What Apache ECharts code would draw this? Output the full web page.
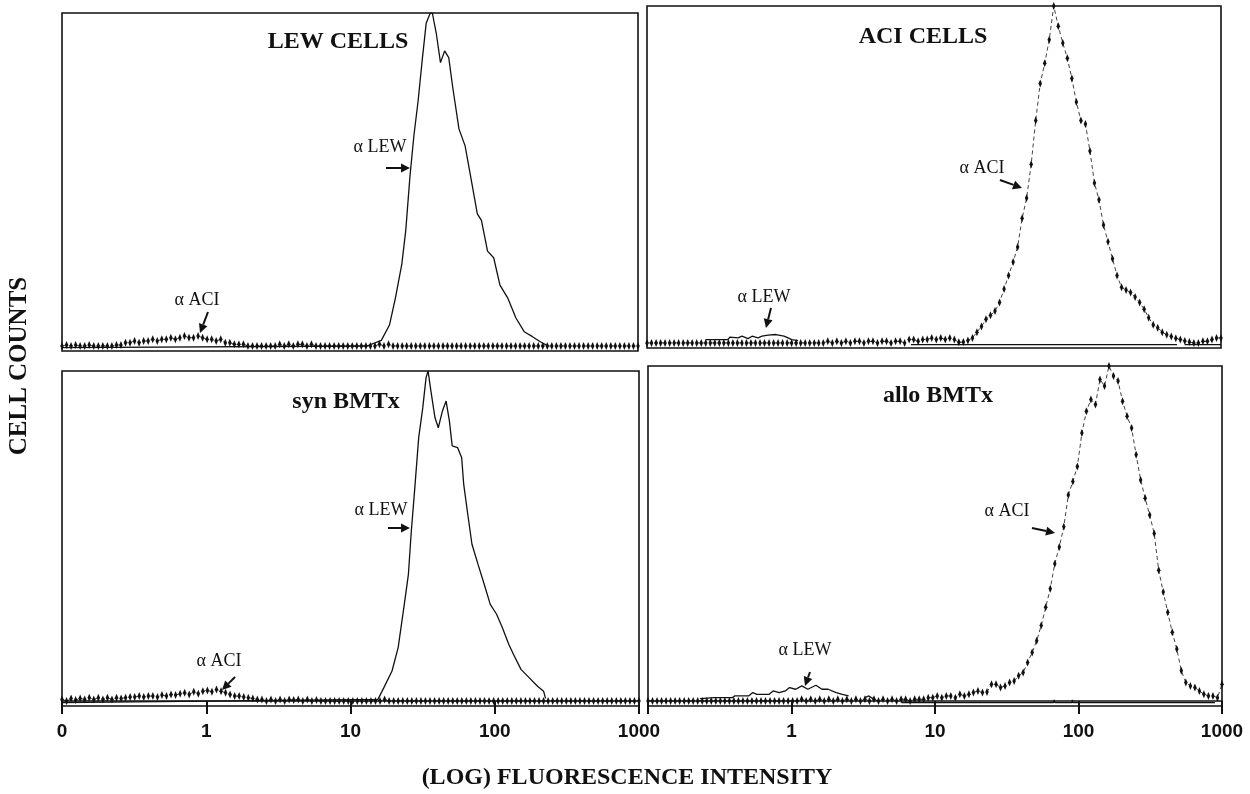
<!DOCTYPE html>
<html>
<head>
<meta charset="utf-8">
<title>Flow cytometry histograms</title>
<script src="https://cdn.jsdelivr.net/npm/echarts/dist/echarts.min.js"></script>
<style>
  html, body { margin: 0; padding: 0; background: #fff; }
  #chart { width: 1250px; height: 794px; }
</style>
</head>
<body>
<div id="chart"></div>
<script>
// x axis ticks (log fluorescence), first tick printed as "0"
var tickLabelsLeft = ['0', '1', '10', '100', '1000'];
var tickLabelsRight = ['', '1', '10', '100', '1000'];

// dotted traces are read per channel (128 log channels over 4 decades)
var channels = [];
for (var i = 0; i < 128; i++) channels.push(i);

// LEW CELLS
var lewAlphaLew = [
  [0.1, -0.5], [13.1, 0], [16.5, 1.7], [18.8, 6.3], [20.7, 14.5], [22.9, 24.6], [24.4, 34.8],
  [26.1, 51.1], [27.8, 63.3], [29.7, 73.5], [31.7, 85.7], [33.8, 96.9], [36.1, 100], [37.3, 100],
  [39.8, 93.7], [42.5, 85.1], [45.4, 88.6], [48.5, 86.6], [51.8, 77.4], [57.1, 65.2], [63, 60.1],
  [69.5, 49.9], [76.6, 39.7], [81.8, 37.7], [90.2, 28.5], [99.5, 26.5], [110, 18.3], [125, 14.3],
  [142, 8.4], [162, 4.3], [185, 2.8], [211, 1.2], [233, 0.2]
];
var lewAlphaAci = [
  0, 0.3, 0, 0.3, 0, 0, 0.3, 0, 0, 0, 0, 0, 0.3, 0.3, 1, 1,
  1.5, 1, 1.5, 1.5, 2, 1.5, 2, 2, 2.5, 2, 2.5, 3, 2.5, 2.5, 3, 2.5,
  2, 2, 1.5, 2, 1, 1, 0.5, 0.5, 0.5, 0, 0, 0, 0, 0, 0, 0,
  0.5, 0, 0.5, 0, 0.5, 0.5, 0, 0.5, 0, 0, 0, 0, 0, 0, 0, 0,
  0, 0, 0, 0, 0, 0, 0.5, 0, 0.5, 0, 0, 0, 0, 0, 0, 0,
  0, 0, 0, 0, 0, 0, 0, 0, 0, 0, 0, 0, 0, 0, 0, 0,
  0, 0, 0, 0, 0, 0, 0, 0, 0, 0, 0, 0, 0, 0, 0, 0,
  0, 0, 0, 0, 0, 0, 0, 0, 0, 0, 0, 0, 0, 0, 0, 0
];

// ACI CELLS
var aciAlphaAci = [
  0, 0, 0, 0, 0, 0, 0, 0, 0, 0, 0, 0, 0, 0, 0, 0,
  0, 0, 0, 0, 0, 0, 0, 0, 0, 0, 0, 0, 0, 0, 0, 0,
  0, 0, 0, 0, 0, 0, 0, 0, 0.5, 0, 0.5, 0, 0.5, 0, 0.5, 0.5,
  0, 0.5, 0.5, 0, 0.5, 0.5, 0, 0.5, 0.5, 0, 1, 1, 0.5, 1, 1, 1.5,
  1, 1.5, 1, 1.5, 1, 0.2, 0.3, 0.7, 1.5, 3.2, 4.9, 7, 8.2, 9.5, 12, 16,
  20, 24, 28.5, 37, 43, 53, 66, 77, 83, 90, 100, 94, 89, 84.5, 78.5, 71.5,
  66, 65, 57, 47.5, 42.5, 35, 30, 25, 20, 16.5, 15.7, 15, 13.6, 12, 10, 7.5,
  5.4, 4.5, 3.2, 2.4, 1.9, 1.4, 1, 0.6, 0.3, 0, 0, 0.5, 0.5, 1, 1.5, 1.5
];
var aciAlphaLew = [
  [0.256, 1], [0.366, 1], [0.378, 1.7], [0.431, 1.5], [0.459, 2], [0.506, 1.3], [0.54, 2],
  [0.594, 1.5], [0.633, 2], [0.697, 2.3], [0.792, 2.5], [0.901, 2], [0.962, 1.5], [1.02, 1],
  [1.13, 0.7], [1.2, '-'], [6.9, -0.5], [494, -0.5], [520, '-'], [560, -0.5], [1000, -0.5]
];

// syn BMTx
var synAlphaLew = [
  [0.1, -0.5], [15.5, 0.5], [17, 4], [19.4, 9.1], [21.4, 16.2], [23.6, 29.3], [25.2, 38.4],
  [26.4, 51.5], [27.8, 63.6], [29.7, 79.8], [31.7, 88.9], [33.4, 98], [34.5, 100], [36.1, 93.9],
  [38.5, 85.9], [40.6, 82.8], [43.4, 87.9], [46, 90.9], [48.5, 84.8], [50.7, 77.3], [55.2, 76.8],
  [59, 73.7], [60.9, 65.7], [65, 56.6], [69.5, 47.5], [76.6, 41.4], [84.5, 35.4], [93.1, 29.3],
  [103, 26.3], [113, 22.2], [125, 17.2], [135, 14.1], [152, 9.6], [173, 7.1], [198, 4.5],
  [218, 3], [225, 0.8]
];
var synAlphaAci = [
  0.5, 0, 0.8, 0.3, 0.8, 0.5, 1, 0.5, 1, 0.5, 1, 0.5, 1, 0.8, 1, 1.2,
  1.2, 1.5, 1.2, 1.5, 1.5, 1.2, 1.8, 1.5, 2, 1.8, 2.2, 2.5, 2, 2.8, 2.2, 3,
  3.2, 2.8, 3.5, 3, 2.5, 2, 1.5, 1.5, 1.2, 1, 0.8, 0.5, 0.5, 0, 0.5, 0,
  0.5, 0, 0.5, 0.3, 0.5, 0, 0.5, 0, 0.3, 0, 0, 0, 0, 0, 0, 0,
  0, 0, 0, 0, 0, 0, 0, 0.5, 0, 0, 0, 0, 0, 0, 0, 0,
  0, 0, 0, 0, 0, 0, 0, 0, 0, 0, 0, 0, 0, 0, 0, 0,
  0, 0, 0, 0, 0, 0, 0, 0, 0, 0, 0, 0, 0, 0, 0, 0,
  0, 0, 0, 0, 0, 0, 0, 0, 0, 0, 0, 0, 0, 0, 0, 0
];

// allo BMTx
var alloAlphaAci = [
  0, 0, 0, 0, 0, 0, 0, 0, 0, 0, 0, 0, 0, 0, 0, 0,
  0, 0, 0, 0, 0, 0, 0, 0, 0, 0, 0, 0, 0, 0, 0, 0,
  0, 0, 0.5, 0, 0.5, 0, 0.5, 0, 0.5, 0, 0.5, 0, 0.5, 0, 0.5, 0,
  0.5, 0, 0.5, 0, 0.5, 0, 0.5, 0, 0.5, 0.5, 0, 0.5, 0.5, 0.5, 1, 1,
  1.5, 1, 1.5, 1.5, 1, 2, 1.5, 2, 2.5, 3, 2.5, 2.7, 5, 5, 4, 4.5,
  5.5, 6, 7.5, 8.5, 11.5, 14.5, 18, 22.5, 28, 33.5, 41, 46, 52, 61.5, 65.5, 70,
  80, 86.5, 90, 88.5, 96, 94, 100, 97, 95.5, 89.5, 85, 81.5, 73.5, 66, 60.5, 55.5,
  50, 39, 32.5, 26.5, 20.5, 15.5, 9, 5.5, 4.5, 4, 3, 2, 1.5, 1.5, 1, 5
];
var alloAlphaLew = [
  [0.23, 0.7], [0.289, 1], [0.388, 1], [0.401, 1.5], [0.503, 1.5], [0.537, 2.5], [0.574, 2],
  [0.698, 2], [0.745, 3], [0.822, 2.5], [0.906, 3], [0.968, 4], [1.07, 3.5], [1.18, 4.5],
  [1.3, 3.5], [1.48, 4.7], [1.63, 3.5], [1.8, 3.5], [2.05, 2.5], [2.26, 2], [2.5, 1.5],
  [2.8, '-'], [3.24, 1], [3.46, 1.5], [3.69, 0.7], [4.5, '-'],
  [5.83, -0.5], [67, -0.5], [67.6, 0.3], [68.5, -0.5], [90, -0.5], [90.6, 0.3], [91.5, -0.5], [892, -0.5]
];

var panels = [
  { grid: { left: 62, top: 13, width: 576, height: 338 }, bottom: false, labels: tickLabelsLeft,
    solid: lewAlphaLew, dotted: lewAlphaAci },
  { grid: { left: 647, top: 6, width: 574, height: 342 }, bottom: false, labels: tickLabelsRight,
    solid: aciAlphaLew, dotted: aciAlphaAci },
  { grid: { left: 62, top: 371, width: 577, height: 335 }, bottom: true, labels: tickLabelsLeft,
    solid: synAlphaLew, dotted: synAlphaAci },
  { grid: { left: 648, top: 366, width: 574, height: 340 }, bottom: true, labels: tickLabelsRight,
    solid: alloAlphaLew, dotted: alloAlphaAci }
];

var ink = '#111';
var serif = '"Liberation Serif", "Times New Roman", serif';

var grids = [], xAxes = [], yAxes = [], series = [];
panels.forEach(function (p, g) {
  grids.push(Object.assign({ show: true, borderColor: ink, borderWidth: 1.6, backgroundColor: 'transparent' }, p.grid));
  var labels = p.labels;
  xAxes.push({
    gridIndex: g, type: 'log', logBase: 10, min: 0.1, max: 1000,
    splitLine: { show: false },
    axisLine: { show: p.bottom, lineStyle: { color: ink, width: 1.6 } },
    axisTick: { show: p.bottom, length: 13, lineStyle: { color: ink, width: 2 } },
    axisLabel: {
      show: p.bottom, margin: 16, color: ink, fontSize: 19, fontWeight: 'bold',
      fontFamily: '"Liberation Sans", Arial, sans-serif',
      formatter: function (v) { return labels[Math.round(Math.log10(v)) + 1] || ''; }
    }
  });
  xAxes.push({ gridIndex: g, type: 'category', data: channels, boundaryGap: false, show: false });
  yAxes.push({ gridIndex: g, type: 'value', min: -1.5, max: 100, show: false, splitLine: { show: false } });

  series.push({
    type: 'line', xAxisIndex: 2 * g, yAxisIndex: g, data: p.solid,
    symbol: 'none', connectNulls: false,
    lineStyle: { color: ink, width: 1.3 }
  });
  series.push({
    type: 'line', xAxisIndex: 2 * g + 1, yAxisIndex: g, data: p.dotted,
    symbol: 'diamond', symbolSize: [3.5, 8], showAllSymbol: true,
    itemStyle: { color: ink },
    lineStyle: { color: ink, width: 0.8, type: [4, 3] }
  });
});

function label(text, x, y, size, bold, rotation) {
  return {
    type: 'text', x: x, y: y, rotation: rotation || 0, z: 100,
    style: {
      text: text, fill: ink, fontSize: size, fontFamily: serif,
      fontWeight: bold ? 'bold' : 'normal', align: 'center', verticalAlign: 'middle'
    }
  };
}

function arrow(x1, y1, x2, y2) {
  var a = Math.atan2(y2 - y1, x2 - x1), len = 9, half = 4.5;
  var bx = x2 - len * Math.cos(a), by = y2 - len * Math.sin(a);
  return {
    type: 'group', z: 100,
    children: [
      { type: 'line', shape: { x1: x1, y1: y1, x2: bx, y2: by }, style: { stroke: ink, lineWidth: 2 } },
      { type: 'polygon', shape: { points: [
        [x2, y2],
        [bx + half * Math.sin(a), by - half * Math.cos(a)],
        [bx - half * Math.sin(a), by + half * Math.cos(a)]
      ] }, style: { fill: ink } }
    ]
  };
}

var graphics = [
  label('LEW CELLS', 338, 42, 24, true),
  label('ACI CELLS', 923, 37, 24, true),
  label('syn BMTx', 346, 402, 24, true),
  label('allo BMTx', 938, 396, 24, true),
  label('α LEW', 380, 147, 18),
  label('α ACI', 197, 300, 18),
  label('α ACI', 982, 168, 18),
  label('α LEW', 764, 297, 18),
  label('α LEW', 381, 510, 18),
  label('α ACI', 219, 661, 18),
  label('α ACI', 1007, 511, 18),
  label('α LEW', 805, 650, 18),
  label('CELL COUNTS', 20, 366, 25, true, Math.PI / 2),
  label('(LOG) FLUORESCENCE INTENSITY', 627, 778, 24, true),
  arrow(386, 168, 410, 168),
  arrow(208, 312, 200, 333),
  arrow(1000, 180, 1022, 188),
  arrow(771, 308, 766, 328),
  arrow(388, 528, 410, 528),
  arrow(235, 677, 222, 690),
  arrow(1032, 528, 1055, 533),
  arrow(810, 672, 805, 686)
];

var chart = echarts.init(document.getElementById('chart'));
chart.setOption({
  backgroundColor: '#fff',
  animation: false,
  grid: grids,
  xAxis: xAxes,
  yAxis: yAxes,
  series: series,
  graphic: graphics
});
</script>
</body>
</html>
